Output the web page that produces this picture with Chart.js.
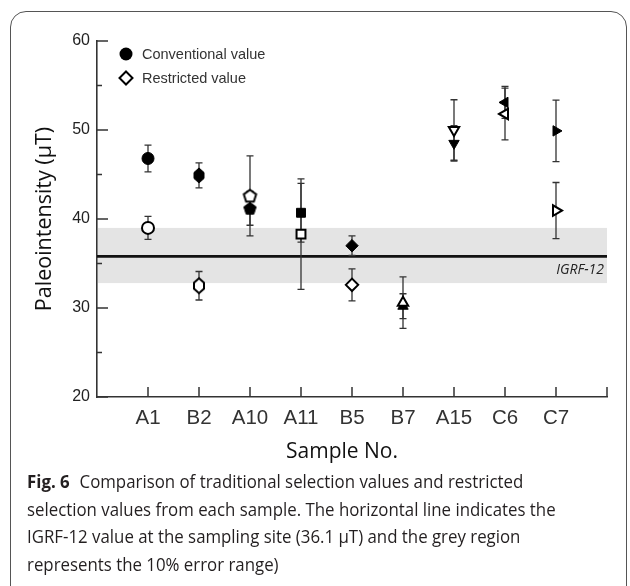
<!DOCTYPE html>
<html>
<head>
<meta charset="utf-8">
<script src="https://cdn.jsdelivr.net/npm/chart.js@4.4.1/dist/chart.umd.min.js"></script>
<style>
  body { margin: 0; background: #fff; width: 630px; height: 586px; overflow: hidden; position: relative; }
  .frame { position: absolute; left: 10px; top: 11px; width: 617px; height: 600px; border: 1.5px solid #555; border-radius: 16px; box-sizing: border-box; }
  #wrap { position: absolute; left: 0; top: 0; width: 630px; height: 470px; }
  .caption { position: absolute; left: 27px; top: 467px; font-family: 'Open Sans', sans-serif; font-size: 18.5px; line-height: 27.5px; color: #231f20; white-space: nowrap; transform: scaleX(0.91); transform-origin: left top; }
  .caption b { margin-right: 6px; }
</style>
</head>
<body>
<div class="frame"></div>
<div id="wrap"><canvas id="chart"></canvas></div>
<div class="caption"><b>Fig. 6</b> Comparison of traditional selection values and restricted<br>selection values from each sample. The horizontal line indicates the<br>IGRF-12 value at the sampling site (36.1 µT) and the grey region<br>represents the 10% error range)</div>
<script>
// data
const samples = ['A1', 'B2', 'A10', 'A11', 'B5', 'B7', 'A15', 'C6', 'C7'];
const conventional = [46.8, 44.9, 41.2, 40.7, 37.0, 30.2, 48.5, 53.1, 49.9];
const conventionalErr = [1.5, 1.4, 1.9, 3.3, 1.1, 1.4, 2.0, 1.8, 3.45];
const restricted = [39.0, 32.5, 42.6, 38.3, 32.6, 30.6, 50.0, 51.8, 40.95];
const restrictedErr = [1.3, 1.6, 4.5, 6.2, 1.8, 2.9, 3.4, 2.9, 3.15];
const yMajorTicks = [20, 30, 40, 50, 60];
const yMinorTicks = [25, 35, 45, 55];
const igrf = 35.8;
const igrfBand = [32.8, 39.0];

// marker canvases for the shapes chart.js doesn't have
function polyMarker(pts, w, h, filled) {
    const c = document.createElement('canvas');
    c.width = w; c.height = h;
    const g = c.getContext('2d');
    g.translate(w / 2, h / 2);
    g.beginPath();
    pts.forEach((p, i) => i ? g.lineTo(p[0], p[1]) : g.moveTo(p[0], p[1]));
    g.closePath();
    g.fillStyle = filled ? '#000' : '#fff';
    g.fill();
    g.lineWidth = filled ? 1 : 2;
    g.strokeStyle = '#000';
    g.stroke();
    return c;
}
const hexPts = [[0, -7.5], [5, -3], [5, 3], [0, 7.5], [-5, 3], [-5, -3]];
const pentPts = [];
for (let k = 0; k < 5; k++) {
    const a = -Math.PI / 2 + k * 2 * Math.PI / 5;
    pentPts.push([Math.cos(a) * 6.5, Math.sin(a) * 6.5 + 0.5]);
}

const filledStyles = ['circle', polyMarker(hexPts, 14, 19, true), polyMarker(pentPts, 17, 17, true), 'rect', 'rectRot', 'triangle', 'triangle', 'triangle', 'triangle'];
const openStyles = ['circle', polyMarker(hexPts, 14, 19, false), polyMarker(pentPts, 17, 17, false), 'rect', 'rectRot', 'triangle', 'triangle', 'triangle', 'triangle'];
const rotations = [0, 0, 0, 0, 0, 0, 180, -90, 90];
const radii = [6, 6, 6, 6.3, 6.2, 6, 6, 6, 6];

const toPoints = vals => vals.map((v, i) => ({x: i + 1, y: v}));

const decor = {
    id: 'decor',
    beforeDatasetsDraw(chart) {
        const {ctx, chartArea: a, scales: {x, y}} = chart;
        ctx.save();
        // grey 10% band + IGRF line
        const yt = y.getPixelForValue(igrfBand[1]);
        const yb = y.getPixelForValue(igrfBand[0]);
        ctx.fillStyle = '#e4e4e4';
        ctx.fillRect(a.left + 1, yt, a.right - a.left - 1, yb - yt);
        const yl = y.getPixelForValue(igrf);
        ctx.strokeStyle = '#111';
        ctx.lineWidth = 2.8;
        ctx.beginPath();
        ctx.moveTo(a.left, yl);
        ctx.lineTo(a.right, yl);
        ctx.stroke();
        ctx.fillStyle = '#222';
        ctx.font = 'italic 14px "Open Sans"';
        ctx.textAlign = 'right';
        ctx.textBaseline = 'middle';
        ctx.fillText('IGRF-12', a.right - 3, yl + 14);
        // error bars
        ctx.strokeStyle = '#333';
        ctx.lineWidth = 1.3;
        [[conventional, conventionalErr], [restricted, restrictedErr]].forEach(([vals, errs]) => {
            vals.forEach((v, i) => {
                const px = x.getPixelForValue(i + 1);
                const y1 = y.getPixelForValue(v + errs[i]);
                const y2 = y.getPixelForValue(v - errs[i]);
                ctx.beginPath();
                ctx.moveTo(px, y1); ctx.lineTo(px, y2);
                ctx.moveTo(px - 3.5, y1); ctx.lineTo(px + 3.5, y1);
                ctx.moveTo(px - 3.5, y2); ctx.lineTo(px + 3.5, y2);
                ctx.stroke();
            });
        });
        ctx.restore();
    },
    afterDraw(chart) {
        const {ctx, chartArea: a, scales: {x, y}} = chart;
        ctx.save();
        // inward tick marks
        ctx.strokeStyle = '#333';
        ctx.lineWidth = 1.5;
        ctx.beginPath();
        for (let i = 1; i <= samples.length + 1; i++) {
            const px = x.getPixelForValue(i);
            ctx.moveTo(px, a.bottom); ctx.lineTo(px, a.bottom - 10);
        }
        yMajorTicks.forEach(v => {
            const py = y.getPixelForValue(v);
            ctx.moveTo(a.left, py); ctx.lineTo(a.left + 11, py);
        });
        yMinorTicks.forEach(v => {
            const py = y.getPixelForValue(v);
            ctx.moveTo(a.left, py); ctx.lineTo(a.left + 5, py);
        });
        ctx.stroke();
        // x axis title, sits a little left of centre in the original
        ctx.fillStyle = '#111';
        ctx.font = '21px "Open Sans"';
        ctx.textAlign = 'center';
        ctx.textBaseline = 'middle';
        ctx.fillText('Sample No.', (a.left + a.right) / 2 - 10, a.bottom + 55);
        // legend
        ctx.textAlign = 'left';
        const lx = a.left + 29, ly = a.top + 13;
        ctx.fillStyle = '#000';
        ctx.beginPath();
        ctx.arc(lx, ly, 6.5, 0, Math.PI * 2);
        ctx.fill();
        ctx.fillStyle = '#fff';
        ctx.strokeStyle = '#000';
        ctx.lineWidth = 2;
        ctx.beginPath();
        ctx.moveTo(lx, ly + 24 - 6.5); ctx.lineTo(lx + 6.5, ly + 24);
        ctx.lineTo(lx, ly + 24 + 6.5); ctx.lineTo(lx - 6.5, ly + 24);
        ctx.closePath();
        ctx.fill(); ctx.stroke();
        ctx.fillStyle = '#333';
        ctx.font = '14.5px "Liberation Sans"';
        ctx.fillText('Conventional value', lx + 16, ly + 1);
        ctx.fillText('Restricted value', lx + 16, ly + 25);
        ctx.restore();
    }
};

new Chart(document.getElementById('chart'), {
    type: 'scatter',
    data: {
        datasets: [{
            label: 'Restricted value',
            data: toPoints(restricted),
            order: 0,
            pointStyle: openStyles,
            pointRotation: rotations,
            pointRadius: radii,
            backgroundColor: '#fff',
            borderColor: '#000',
            borderWidth: 2
        }, {
            label: 'Conventional value',
            data: toPoints(conventional),
            order: 1,
            pointStyle: filledStyles,
            pointRotation: rotations,
            pointRadius: radii,
            backgroundColor: '#000',
            borderColor: '#000',
            borderWidth: 1
        }]
    },
    options: {
        animation: false,
        responsive: true,
        maintainAspectRatio: false,
        layout: { padding: { top: 41, right: 23, left: 0, bottom: 0 } },
        plugins: {
            legend: { display: false },
            tooltip: { enabled: false }
        },
        scales: {
            x: {
                type: 'linear',
                min: 0,
                max: 10,
                afterBuildTicks: s => { s.ticks = samples.map((_, i) => ({value: i + 1})); },
                afterFit: s => { s.height = 73; },
                ticks: {
                    callback: v => samples[v - 1],
                    font: { family: 'Liberation Sans', size: 20.5 },
                    color: '#333',
                    padding: 9,
                    maxRotation: 0,
                    autoSkip: false
                },
                grid: { display: false, drawTicks: false },
                border: { display: true, color: '#333', width: 1.6 }
            },
            y: {
                min: 20,
                max: 60,
                afterBuildTicks: s => { s.ticks = yMajorTicks.map(v => ({value: v})); },
                afterFit: s => { s.width = 97; },
                ticks: {
                    font: { family: 'Liberation Sans', size: 16 },
                    color: '#222',
                    padding: 7
                },
                grid: { display: false, drawTicks: false },
                border: { display: true, color: '#333', width: 1.6 },
                title: {
                    display: true,
                    text: 'Paleointensity (µT)',
                    font: { family: 'Open Sans', size: 21.5 },
                    color: '#111',
                    padding: { top: 32, bottom: 0 }
                }
            }
        }
    },
    plugins: [decor]
});
</script>
</body>
</html>
